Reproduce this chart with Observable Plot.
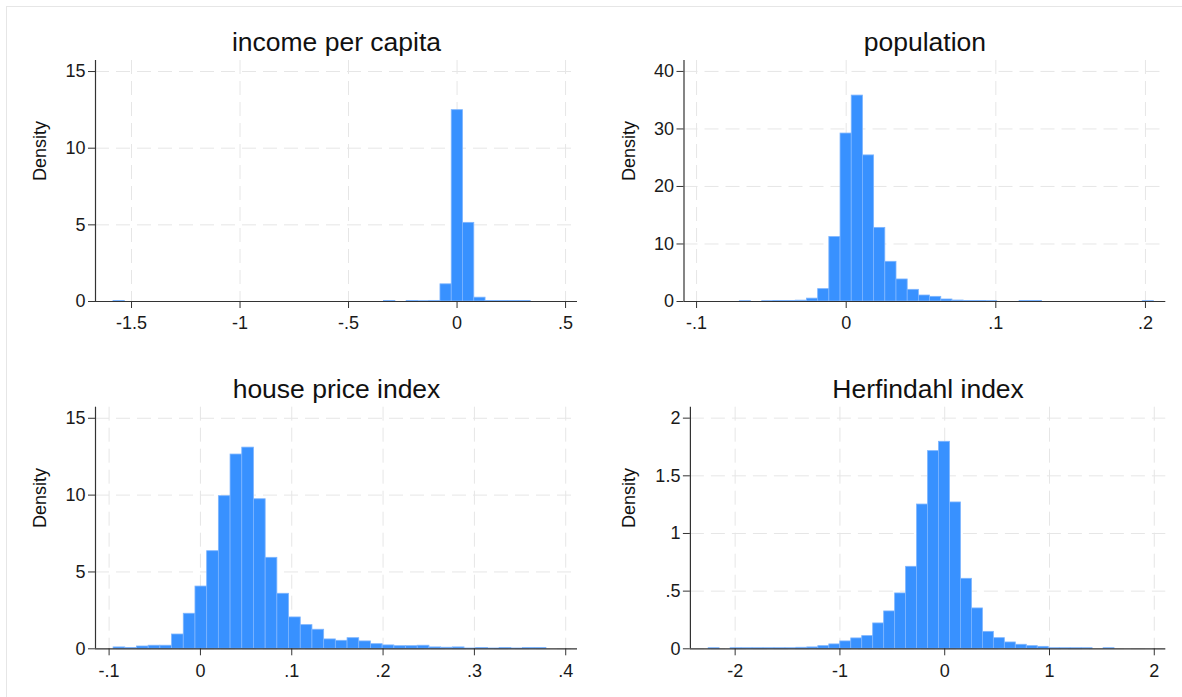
<!DOCTYPE html>
<html>
<head>
<meta charset="utf-8">
<script src="https://cdn.jsdelivr.net/npm/d3@7"></script>
<script src="https://cdn.jsdelivr.net/npm/@observablehq/plot@0.6"></script>
<style>
  html, body { margin: 0; padding: 0; background: #fff; }
  #wrap { position: relative; width: 1182px; height: 697px; overflow: hidden; background: #fff; }
  #frame { position: absolute; left: 6px; top: 6px; width: 1400px; height: 900px; border: 1.5px solid #e6e6e6; }
  .panel { position: absolute; }
</style>
</head>
<body>
<div id="wrap"><div id="frame"></div></div>
<script>
// Histogram densities (37 equal-width bins per variable)
const incomeStart = -1.583, incomeBinWidth = 0.05195;
const incomeDensity = [
  0.03, 0, 0, 0, 0, 0, 0, 0, 0, 0, 0, 0, 0, 0, 0, 0, 0, 0, 0, 0, 0, 0, 0, 0,
  0.03, 0, 0.03, 0.02, 0.04, 1.12, 12.48, 5.13, 0.25, 0.03, 0.03, 0.03, 0.03
];

const populationStart = -0.0711, populationBinWidth = 0.00748;
const populationDensity = [
  0.05, 0, 0.05, 0.08, 0.1, 0.15, 0.5, 2.15, 11.2, 29.2, 35.8, 25.4, 12.8, 6.9,
  3.83, 2.03, 1.04, 0.81, 0.35, 0.17, 0.08, 0.08, 0.06, 0, 0, 0.08, 0.08,
  0, 0, 0, 0, 0, 0, 0, 0, 0, 0.05
];

const houseStart = -0.0951, houseBinWidth = 0.01281;
const houseDensity = [
  0.09, 0.05, 0.15, 0.2, 0.2, 0.93, 2.28, 4.05, 6.35, 9.93, 12.64, 13.09, 9.73,
  5.92, 3.58, 2.04, 1.54, 1.24, 0.61, 0.52, 0.69, 0.48, 0.30, 0.22, 0.17, 0.17,
  0.2, 0.09, 0.07, 0.09, 0.02, 0.05, 0.02, 0.05, 0.02, 0.05, 0.05
];

const herfStart = -2.253, herfBinWidth = 0.1047;
const herfDensity = [
  0.005, 0, 0.005, 0.005, 0.005, 0.005, 0.005, 0.005, 0.009, 0.012, 0.023,
  0.038, 0.064, 0.09, 0.11, 0.22, 0.324, 0.48, 0.711, 1.251, 1.714, 1.795,
  1.269, 0.607, 0.35, 0.147, 0.092, 0.055, 0.035, 0.023, 0.017, 0.005, 0.005,
  0.005, 0.005, 0, 0.005
];

// Titles and tick values
const titles = ["income per capita", "population", "house price index", "Herfindahl index"];
const incomeTicksX = [-1.5, -1, -0.5, 0, 0.5];
const incomeTicksY = [0, 5, 10, 15];
const populationTicksX = [-0.1, 0, 0.1, 0.2];
const populationTicksY = [0, 10, 20, 30, 40];
const houseTicksX = [-0.1, 0, 0.1, 0.2, 0.3, 0.4];
const houseTicksY = [0, 5, 10, 15];
const herfTicksX = [-2, -1, 0, 1, 2];
const herfTicksY = [0, 0.5, 1, 1.5, 2];

// Stata-style numbers: drop the leading zero ("-.5", ".1")
const fmt = d => d === 0 ? "0" : String(d).replace(/^(-?)0\./, "$1.");

function bins(start, w, dens) {
  return dens.map((d, i) => ({x1: start + i * w, x2: start + (i + 1) * w, density: d}))
             .filter(b => b.density > 0);
}

const font = "'Liberation Sans', Arial, sans-serif";
const grid = {stroke: "#e6e6e6", strokeOpacity: 1, strokeWidth: 1, strokeDasharray: "14,7"};

function panel(o) {
  const plot = Plot.plot({
    width: o.width, height: o.height,
    marginLeft: o.ml, marginRight: o.mr, marginTop: o.mt, marginBottom: o.mb,
    style: {fontFamily: font, background: "transparent", overflow: "visible", color: "#1a1a1a"},
    x: {domain: o.xDomain},
    y: {domain: o.yDomain},
    marks: [
      Plot.gridX(o.xTicks, grid),
      Plot.gridY(o.yTicks, grid),
      Plot.rectY(o.bars, {x1: "x1", x2: "x2", y: "density", fill: "#3891ff", stroke: "#7db5ff", strokeWidth: 0.8}),
      Plot.ruleX([o.xDomain[0]], {stroke: "#333", strokeWidth: 1.2}),
      Plot.ruleY([0], {stroke: "#333", strokeWidth: 1.2}),
      Plot.axisX(o.xTicks, {tickSize: 7, tickPadding: 8, tickFormat: fmt, fontSize: 18, label: null, stroke: "#333"}),
      Plot.axisY(o.yTicks, {tickSize: 7, tickPadding: 3, tickFormat: fmt, fontSize: 18, label: null, stroke: "#333"}),
      Plot.text([o.title], {frameAnchor: "top", lineAnchor: "bottom", dy: -9.5, fontSize: 26.5, fill: "#111"}),
      Plot.text(["Density"], {frameAnchor: "left", dx: o.labelDx, rotate: -90, fontSize: 18, fill: "#111"})
    ]
  });
  plot.classList.add("panel");
  plot.style.left = o.left + "px";
  plot.style.top = o.top + "px";
  document.getElementById("wrap").appendChild(plot);
}

panel({title: titles[0], bars: bins(incomeStart, incomeBinWidth, incomeDensity),
  xDomain: [-1.666, 0.555], yDomain: [0, 15.72], xTicks: incomeTicksX, yTicks: incomeTicksY,
  left: 0, top: 0, width: 591, height: 345, ml: 95, mr: 14, mt: 60, mb: 44, labelDx: -55});

panel({title: titles[1], bars: bins(populationStart, populationBinWidth, populationDensity),
  xDomain: [-0.1084, 0.2136], yDomain: [0, 41.9], xTicks: populationTicksX, yTicks: populationTicksY,
  left: 591, top: 0, width: 591, height: 345, ml: 92.5, mr: 16.7, mt: 60, mb: 44, labelDx: -55});

panel({title: titles[2], bars: bins(houseStart, houseBinWidth, houseDensity),
  xDomain: [-0.1149, 0.4129], yDomain: [0, 15.72], xTicks: houseTicksX, yTicks: houseTicksY,
  left: 0, top: 350, width: 591, height: 347, ml: 95, mr: 14, mt: 56.7, mb: 48.7, labelDx: -55});

panel({title: titles[3], bars: bins(herfStart, herfBinWidth, herfDensity),
  xDomain: [-2.427, 2.11], yDomain: [0, 2.095], xTicks: herfTicksX, yTicks: herfTicksY,
  left: 591, top: 350, width: 591, height: 347, ml: 98.9, mr: 16.7, mt: 56.7, mb: 48.7, labelDx: -61});
</script>
</body>
</html>
